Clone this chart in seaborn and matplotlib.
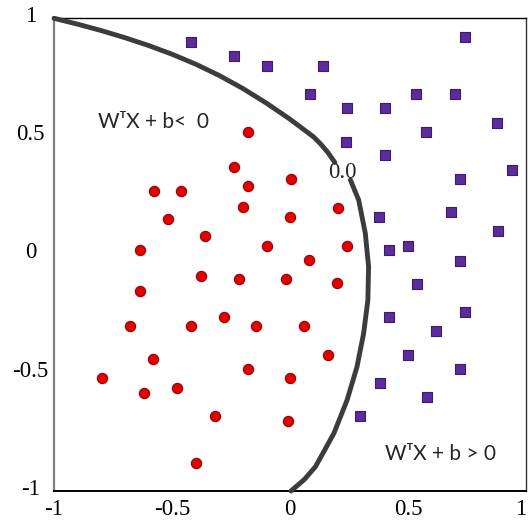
import matplotlib
matplotlib.use("Agg")
import matplotlib.pyplot as plt
import seaborn as sns
import pandas as pd
from matplotlib.transforms import ScaledTranslation

# ---- data ----
red_x = [-0.180, -0.239, -0.180, -0.578, -0.460, -0.200, -0.518, -0.359, -0.637,
         0.003, 0.203, 0.001, 0.241, -0.098, 0.080, -0.377, -0.218, -0.018, 0.201,
         -0.637, -0.280, -0.678, -0.421, -0.145, 0.059, 0.162, -0.581, -0.180,
         0.001, -0.797, -0.478, -0.620, -0.318, -0.010, -0.398]
red_y = [0.518, 0.370, 0.292, 0.270, 0.270, 0.201, 0.150, 0.080, 0.020,
         0.319, 0.199, 0.160, 0.038, 0.038, -0.022, -0.090, -0.102, -0.102, -0.121,
         -0.152, -0.262, -0.302, -0.302, -0.302, -0.302, -0.424, -0.443, -0.482,
         -0.523, -0.523, -0.563, -0.584, -0.683, -0.704, -0.883]

purple_x = [-0.419, -0.239, -0.097, 0.141, 0.740, 0.083, 0.536, 0.699, 0.242, 0.402,
            0.879, 0.578, 0.239, 0.402, 0.941, 0.720, 0.681, 0.378, 0.881, 0.498,
            0.421, 0.720, 0.540, 0.421, 0.741, 0.619, 0.501, 0.720, 0.380, 0.579, 0.298]
purple_y = [0.901, 0.841, 0.800, 0.800, 0.920, 0.679, 0.679, 0.679, 0.620, 0.620,
            0.559, 0.518, 0.478, 0.422, 0.358, 0.319, 0.179, 0.160, 0.102, 0.038,
            0.020, -0.025, -0.123, -0.264, -0.242, -0.323, -0.424, -0.482, -0.544, -0.602, -0.683]

# decision boundary (level 0.0), split where its label sits
upper_x = [-1.00, -0.90, -0.80, -0.70, -0.60, -0.50, -0.40, -0.30, -0.20, -0.10,
           0.00, 0.10, 0.13, 0.16, 0.19]
upper_y = [1.000, 0.975, 0.948, 0.918, 0.885, 0.848, 0.806, 0.758, 0.703, 0.641,
           0.573, 0.498, 0.468, 0.433, 0.390]
lower_x = [0.256, 0.291, 0.319, 0.333, 0.330, 0.312, 0.284, 0.242, 0.186, 0.108,
           0.060, 0.004]
lower_y = [0.316, 0.231, 0.091, -0.051, -0.192, -0.333, -0.474, -0.615, -0.756, -0.897,
           -0.952, -1.000]

xticks = [-1, -0.5, 0, 0.5, 1]
xtick_labels = ["-1", "-0.5", "0", "0.5", "1"]
yticks = [-1, -0.5, 0, 0.5, 1]
ytick_labels = ["-1", "-0.5", "0", "0.5", "1"]

level_label = "0.0"
left_label = "W\u1d40X + b<  0"
right_label = "W\u1d40X + b > 0"

# ---- figure ----
sns.set_theme(style="white")
plt.rcParams["font.family"] = ["Liberation Serif", "DejaVu Serif"]

fig = plt.figure(figsize=(5.28, 5.22), dpi=100)
ax = fig.add_axes([0.1023, 0.0594, 0.8939, 0.9056])

df = pd.DataFrame({
    "x": red_x + purple_x,
    "y": red_y + purple_y,
    "cls": ["neg"] * len(red_x) + ["pos"] * len(purple_x),
})

sns.scatterplot(data=df[df.cls == "neg"], x="x", y="y", ax=ax, marker="o",
                s=55, color="#e30000", edgecolor="#9a0000", linewidth=0.8,
                legend=False, zorder=3)
sns.scatterplot(data=df[df.cls == "pos"], x="x", y="y", ax=ax, marker="s",
                s=45, color="#5b2c9c", edgecolor="#3e1a72", linewidth=0.8,
                legend=False, zorder=3)

for cx, cy in ((upper_x, upper_y), (lower_x, lower_y)):
    sns.lineplot(x=cx, y=cy, ax=ax, sort=False, estimator=None,
                 color="#3c3c3c", linewidth=3.5, zorder=4)
for ln in ax.lines:
    ln.set_clip_on(False)
    ln.set_solid_capstyle("round")
    ln.set_solid_joinstyle("round")

ax.text(0.224, 0.346, level_label, ha="center", va="center", fontsize=16.5,
        family=["Liberation Serif", "DejaVu Serif"], zorder=5)
ax.text(-0.58, 0.56, left_label, ha="center", va="center", fontsize=15,
        family=["Lato", "DejaVu Sans"])
ax.text(0.637, -0.842, right_label, ha="center", va="center", fontsize=15,
        family=["Lato", "DejaVu Sans"])

ax.set_xlim(-1, 1)
ax.set_ylim(-1, 1)
ax.set_xticks(xticks)
ax.set_xticklabels(xtick_labels)
ax.set_yticks(yticks)
ax.set_yticklabels(ytick_labels)
ax.set_xlabel("")
ax.set_ylabel("")
ax.tick_params(axis="both", length=0, labelsize=16.5, colors="black")
ax.tick_params(axis="x", pad=6)
ax.tick_params(axis="y", pad=17)
for lab in ax.get_yticklabels():
    lab.set_horizontalalignment("center")
    lab.set_transform(lab.get_transform() + ScaledTranslation(0, 3 / 72, fig.dpi_scale_trans))
ax.get_xticklabels()[-1].set_horizontalalignment("right")

ax.spines["left"].set_color("#808080")
ax.spines["left"].set_linewidth(1.6)
ax.spines["bottom"].set_color("black")
ax.spines["bottom"].set_linewidth(1.4)
ax.spines["top"].set_color("black")
ax.spines["top"].set_linewidth(1.0)
ax.spines["right"].set_color("#333333")
ax.spines["right"].set_linewidth(1.0)
ax.grid(False)

fig.savefig("out.png", dpi=100)
